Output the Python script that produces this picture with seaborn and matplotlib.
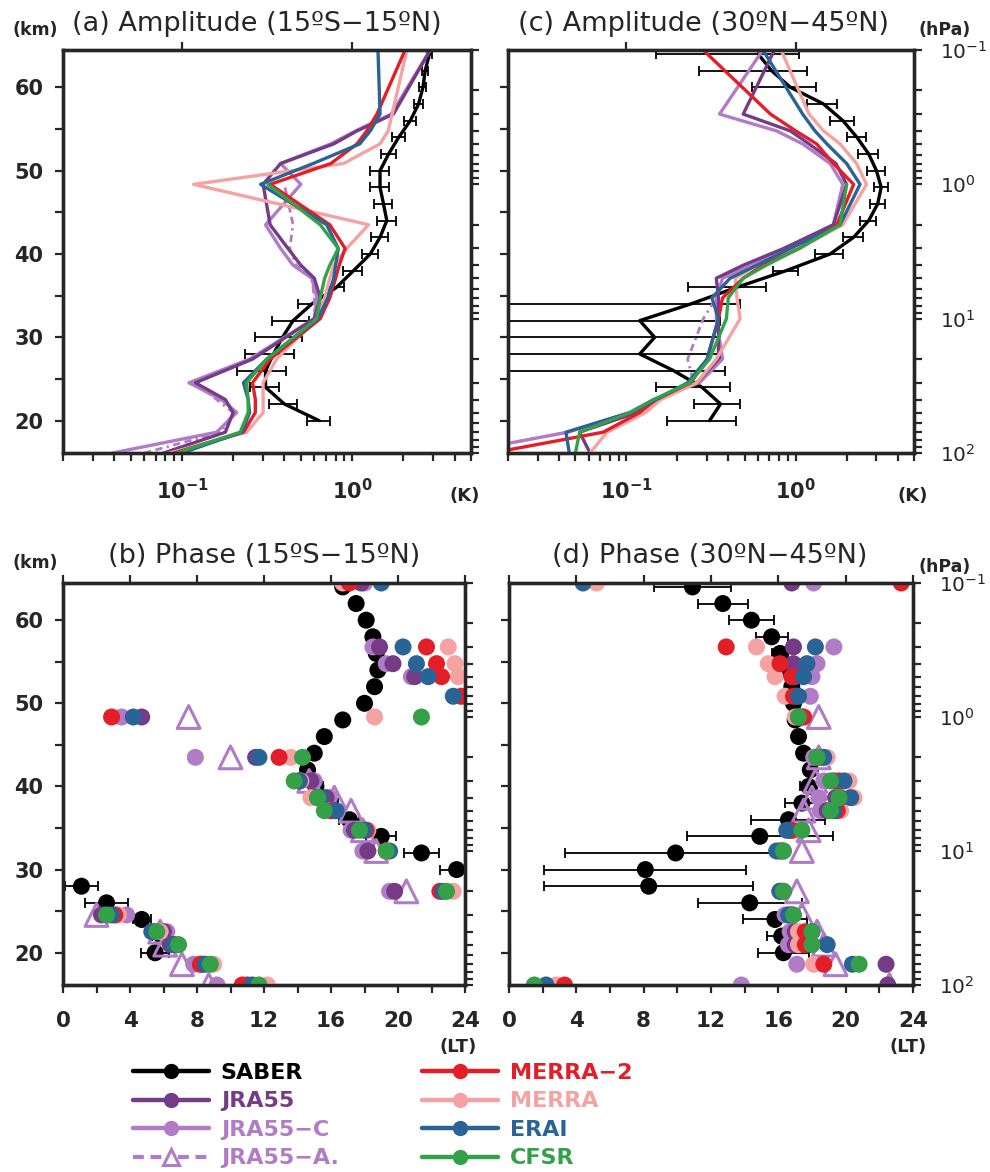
import numpy as np
import matplotlib
matplotlib.use("Agg")
import matplotlib.pyplot as plt
import seaborn as sns
from matplotlib.lines import Line2D
from matplotlib.ticker import MultipleLocator, NullFormatter

# ---------------------------------------------------------------- data
H_SCALE_KM = 7.0                      # log-pressure height z = H ln(1000/p)
P_LEVELS = [100, 70, 50, 40, 30, 20, 10, 7, 5, 4, 3, 2, 1, 0.7, 0.5, 0.4, 0.3, 0.1]   # hPa
P_LEVELS_1HPA = [100, 70, 50, 40, 30, 20, 10, 7, 5, 4, 3, 2, 1]                       # hPa
SABER_KM = [20, 22, 24, 26, 28, 30, 32, 34, 36, 38, 40, 42, 44, 46, 48, 50, 52, 54, 56, 58, 60, 62, 64]

NAN = np.nan

# (a) amplitude, 15S-15N (K)
EQ_AMP_SABER = [0.64, 0.40, 0.31, 0.31, 0.345, 0.39, 0.45, 0.58, 0.81, 1.02, 1.28, 1.46, 1.60, 1.53,
                1.46, 1.46, 1.64, 1.88, 2.20, 2.46, 2.61, 2.69, 2.85]
EQ_AMP_SABER_ERR = [0.10, 0.075, 0.06, 0.10, 0.11, 0.12, 0.11, 0.10, 0.09, 0.13, 0.14, 0.17, 0.20, 0.18,
                    0.18, 0.18, 0.16, 0.17, 0.17, 0.15, 0.12, 0.10, 0.10]
EQ_AMP_JRA55 = [0.078, 0.18, 0.20, 0.18, 0.12, 0.26, 0.60, 0.65, 0.60, 0.50, 0.42, 0.33, 0.30, 0.38, 0.78, 1.07, 1.75, 2.88]
EQ_AMP_JRA55C = [0.039, 0.16, 0.21, 0.17, 0.11, 0.25, 0.60, 0.62, 0.58, 0.45, 0.38, 0.31, 0.50, 0.38, 0.75, 1.05, 1.70, 2.88]
EQ_AMP_JRA55A = [0.06, 0.17, 0.20, 0.16, 0.12, 0.25, 0.60, 0.60, 0.58, 0.47, 0.43, 0.45, 0.40]
EQ_AMP_MERRA2 = [0.09, 0.23, 0.27, 0.27, 0.26, 0.33, 0.65, 0.74, 0.80, 0.84, 0.91, 0.74, 0.33, 0.75, 1.07, 1.22, 1.40, 2.05]
EQ_AMP_MERRA = [0.085, 0.24, 0.30, 0.30, 0.30, 0.36, 0.62, 0.69, 0.74, 0.78, 0.93, 1.25, 0.117, 0.89, 1.46, 1.63, 1.72, 2.10]
EQ_AMP_ERAI = [0.10, 0.225, 0.25, 0.245, 0.23, 0.315, 0.63, 0.72, 0.78, 0.80, 0.83, 0.71, 0.29, 0.59, 1.11, 1.28, 1.46, 1.42]
EQ_AMP_CFSR = [0.093, 0.22, 0.245, 0.245, 0.24, 0.315, 0.62, 0.65, 0.69, 0.74, 0.83, 0.65, 0.32]

# (c) amplitude, 30N-45N (K)
MID_AMP_SABER = [0.31, 0.36, 0.28, 0.19, 0.12, 0.147, 0.12, 0.24, 0.45, 0.88, 1.60, 2.20, 2.70, 3.05,
                 3.20, 3.00, 2.70, 2.30, 1.90, 1.46, 0.93, 0.72, 0.60]
MID_AMP_SABER_ERR = [0.135, 0.11, 0.13, 0.19, 0.237, 0.21, 0.237, 0.23, 0.22, 0.15, 0.30, 0.30, 0.30, 0.30,
                     0.30, 0.35, 0.35, 0.30, 0.30, 0.30, 0.38, 0.45, 0.45]
MID_AMP_JRA55 = [0.061, 0.053, 0.115, 0.15, 0.26, 0.35, 0.35, 0.35, 0.34, 0.49, 0.85, 1.67, 2.00, 1.73, 1.20, 0.93, 0.49, 0.75]
MID_AMP_JRA55C = [0.010, 0.045, 0.105, 0.145, 0.27, 0.37, 0.34, 0.34, 0.37, 0.54, 0.89, 1.67, 1.90, 1.60, 1.10, 0.77, 0.355, 0.64]
MID_AMP_JRA55A = [0.010, 0.045, 0.105, 0.145, 0.25, 0.23, 0.285, 0.34, 0.37, 0.54, 0.89, 1.67, 1.90]
MID_AMP_MERRA2 = [0.016, 0.073, 0.12, 0.15, 0.24, 0.30, 0.35, 0.37, 0.49, 0.64, 1.05, 1.75, 2.20, 1.67, 1.33, 1.00, 0.71, 0.284]
MID_AMP_MERRA = [0.061, 0.077, 0.13, 0.16, 0.26, 0.34, 0.47, 0.45, 0.44, 0.59, 1.05, 1.90, 2.62, 2.29, 1.83, 1.46, 1.20, 0.82]
MID_AMP_ERAI = [0.046, 0.044, 0.105, 0.15, 0.23, 0.30, 0.35, 0.32, 0.41, 0.59, 0.93, 1.83, 2.40, 2.00, 1.53, 1.30, 1.10, 0.64]
MID_AMP_CFSR = [0.050, 0.053, 0.105, 0.145, 0.237, 0.31, 0.39, 0.40, 0.49, 0.67, 1.05, 1.83, 2.00]

# (b) phase, 15S-15N (LT)
EQ_PH_SABER = [5.5, 5.9, 4.7, 2.6, 1.1, 23.5, 21.4, 19.0, 17.1, 15.9, 15.1, 14.6, 15.0, 15.6, 16.7, 18.0,
               18.6, 18.8, 18.7, 18.5, 18.1, 17.5, 16.7]
EQ_PH_SABER_ERR = [0.85, 0.6, 0.55, 1.3, 1.0, 1.0, 1.05, 0.9, 0.6, 0.5, 0.4, 0.35, 0.35, 0.3, 0.3, 0.3,
                   0.3, 0.3, 0.3, 0.3, 0.3, 0.3, 0.3]
EQ_PH_JRA55 = [11.0, 8.3, 6.4, 6.0, 2.3, 19.8, 18.2, 17.4, 16.2, 15.7, 14.8, 11.5, 4.7, NAN, 21.0, 19.7, 18.9, 17.8]
EQ_PH_JRA55C = [9.2, 7.8, 6.8, 6.2, 3.8, 19.5, 17.9, 17.2, 16.0, 15.9, 15.0, 7.9, 3.5, NAN, 20.8, 19.3, 18.5, 18.0]
EQ_PH_JRA55A = [8.7, 7.1, 6.1, 5.8, 2.0, 20.5, 18.7, 17.9, 17.2, 16.2, 14.7, 10.0, 7.5]
EQ_PH_MERRA2 = [10.7, 8.2, 6.6, 5.5, 3.1, 22.5, 19.3, 18.1, 16.0, 15.2, 14.1, 12.9, 2.9, 23.8, 22.6, 22.3, 21.7, 17.1]
EQ_PH_MERRA = [12.2, 9.0, 6.8, 5.8, 3.3, 23.3, 19.3, 18.2, 15.9, 14.8, 14.2, 13.6, 18.6, 23.7, 23.6, 23.4, 23.0, 16.7]
EQ_PH_ERAI = [11.3, 8.5, 6.6, 5.3, 2.9, 22.7, 19.5, 18.0, 16.3, 15.4, 14.1, 11.7, 4.2, 23.3, 21.8, 21.1, 20.3, 19.0]
EQ_PH_CFSR = [11.7, 8.8, 6.9, 5.6, 2.6, 22.9, 19.3, 17.7, 15.6, 15.2, 13.8, 14.3, 21.4]

# (d) phase, 30N-45N (LT)
MID_PH_SABER = [16.3, 16.2, 15.8, 14.3, 8.3, 8.1, 9.9, 14.9, 16.6, 17.4, 17.8, 17.9, 17.5, 17.2, 17.0, 16.9,
                16.8, 16.6, 16.1, 15.6, 14.4, 12.7, 10.9]
MID_PH_SABER_ERR = [1.5, 0.9, 1.9, 3.1, 6.2, 6.0, 6.6, 4.35, 2.2, 1.0, 0.5, 0.35, 0.3, 0.3, 0.3, 0.3,
                    0.3, 0.3, 0.5, 0.95, 1.35, 1.5, 2.3]
MID_PH_JRA55 = [22.5, 22.4, 17.0, 17.0, 16.7, 16.1, 16.2, 16.7, 18.9, 19.4, 19.3, 18.3, 17.4, 17.1, 17.0, 16.9, 16.9, 16.8]
MID_PH_JRA55C = [13.8, 17.1, 16.6, 16.7, 16.4, 16.1, 16.3, 16.7, 18.5, 18.4, 18.7, 18.1, 17.3, 17.9, 18.0, 18.3, 19.3, 18.1]
MID_PH_JRA55A = [22.6, 19.4, 18.7, 18.3, 17.4, 17.1, 17.4, 17.8, 17.5, 18.0, 18.2, 18.4, 18.4]
MID_PH_MERRA2 = [3.3, 18.7, 17.6, 17.6, 16.8, 16.3, 16.1, 16.8, 19.5, 19.7, 19.6, 18.5, 17.5, 16.9, 16.8, 16.1, 12.9, 23.3]
MID_PH_MERRA = [2.8, 18.1, 17.2, 17.2, 16.8, 16.2, 16.3, 17.0, 19.7, 20.5, 20.2, 18.9, 17.0, 16.4, 15.8, 15.4, 14.7, 5.2]
MID_PH_ERAI = [2.2, 20.4, 18.9, 18.0, 16.6, 16.1, 15.9, 16.5, 19.3, 20.3, 19.9, 18.7, 17.2, 17.2, 17.5, 17.7, 18.2, 4.4]
MID_PH_CFSR = [1.5, 20.8, 18.0, 18.0, 16.9, 16.3, 16.3, 17.4, 19.1, 19.6, 19.1, 18.3, 17.2]

NAMES = ["SABER", "JRA55", "JRA55-C", "JRA55-A.", "MERRA-2", "MERRA", "ERAI", "CFSR"]
LEGEND_LABELS = ["SABER", "JRA55", "JRA55−C", "JRA55−A.", "MERRA−2", "MERRA", "ERAI", "CFSR"]
COLORS = {"SABER": "#000000", "JRA55": "#763B86", "JRA55-C": "#B07CC6", "JRA55-A.": "#B07CC6",
          "MERRA-2": "#E41E26", "MERRA": "#F5A3A2", "ERAI": "#2A6496", "CFSR": "#34A048"}
DRAW_ORDER = ["JRA55-A.", "JRA55-C", "JRA55", "MERRA", "MERRA-2", "ERAI", "CFSR"]
A_DASH = (0, (2.6, 1.6, 2.6, 1.6, 0.8, 1.6))

TITLES = ["(a) Amplitude (15ºS−15ºN)", "(c) Amplitude (30ºN−45ºN)",
          "(b) Phase (15ºS−15ºN)", "(d) Phase (30ºN−45ºN)"]

# ---------------------------------------------------------------- helpers
def height_km(plev):
    return H_SCALE_KM * np.log(1000.0 / np.asarray(plev, dtype=float))

Z_BOT = float(height_km([100])[0])
Z_TOP = float(height_km([0.1])[0])

def series_levels(name):
    return P_LEVELS_1HPA if name in ("JRA55-A.", "CFSR") else P_LEVELS

sns.set_style("ticks")
plt.rcParams["font.family"] = ["DejaVu Sans"]
plt.rcParams["mathtext.default"] = "bf"

fig = plt.figure(figsize=(9.9, 11.72), dpi=100)
W, H = 990.0, 1172.0

def px_axes(l, t, r, b):
    return fig.add_axes([l / W, 1 - b / H, (r - l) / W, (b - t) / H])

ax_a = px_axes(63, 50, 471, 453)
ax_c = px_axes(508, 50, 914, 453)
ax_b = px_axes(63, 583, 465, 985)
ax_d = px_axes(509, 583, 913, 985)

TICK_KW = dict(which="both", direction="out", width=1.6, length=6)


def style_axes(ax, left_labels, right_labels, amp):
    ax.set_ylim(Z_BOT, Z_TOP)
    ax.yaxis.set_major_locator(MultipleLocator(10))
    ax.yaxis.set_minor_locator(MultipleLocator(5))
    ax.tick_params(**TICK_KW)
    ax.tick_params(axis="x", top=True, labeltop=False, labelsize=15)
    ax.tick_params(axis="y", left=True, right=False, labelleft=left_labels, pad=8, labelsize=15)
    if amp:
        ax.set_xscale("log")
        ax.set_xlim(0.02, 5.0)
        ax.xaxis.set_minor_formatter(NullFormatter())
        ax.tick_params(axis="x", pad=12)
    else:
        ax.set_xlim(0, 24)
        ax.xaxis.set_major_locator(MultipleLocator(4))
        ax.xaxis.set_minor_locator(MultipleLocator(2))
        ax.tick_params(axis="x", pad=13, labelsize=15.5)
    ax.set_xlabel("")
    ax.set_ylabel("")
    for lbl in ax.get_xticklabels() + ax.get_yticklabels():
        lbl.set_fontweight("bold")
    axr = ax.twinx()
    axr.set_yscale("log")
    axr.set_ylim(100, 0.1)
    axr.yaxis.set_minor_formatter(NullFormatter())
    axr.tick_params(**TICK_KW)
    axr.tick_params(axis="y", labelright=right_labels, pad=13, labelsize=14.5)
    for ax_ in (ax, axr):
        for sp in ax_.spines.values():
            sp.set_linewidth(2.4)
            sp.set_visible(True)
    return axr


def draw_amp(ax, saber, saber_err, data):
    ax.set_xscale("log")
    ax.errorbar(saber, SABER_KM, xerr=saber_err, fmt="none", ecolor="black",
                elinewidth=1.3, capsize=3.8, capthick=1.3, zorder=2)
    sns.lineplot(x=saber, y=SABER_KM, sort=False, estimator=None, color="black",
                 lw=2.4, ax=ax, zorder=3)
    for i, name in enumerate(DRAW_ORDER):
        z = height_km(series_levels(name))
        kw = dict(sort=False, estimator=None, color=COLORS[name], ax=ax, zorder=4 + i)
        if name == "JRA55-A.":
            sns.lineplot(x=data[name], y=z, lw=2.0, linestyle=A_DASH, **kw)
        else:
            sns.lineplot(x=data[name], y=z, lw=2.4, **kw)


def draw_phase(ax, saber, saber_err, data):
    ax.errorbar(saber, SABER_KM, xerr=saber_err, fmt="none", ecolor="black",
                elinewidth=1.3, capsize=3.8, capthick=1.3, zorder=2)
    sns.scatterplot(x=saber, y=SABER_KM, color="black", s=150, edgecolor="none",
                    linewidth=0, ax=ax, zorder=3)
    for i, name in enumerate(DRAW_ORDER):
        z = height_km(series_levels(name))
        c = COLORS[name]
        if name == "JRA55-A.":
            sns.scatterplot(x=data[name], y=z, marker="^", s=270, color=c, facecolor="none",
                            edgecolor=c, linewidth=2.2, ax=ax, zorder=4 + i)
        else:
            sns.scatterplot(x=data[name], y=z, s=150, color=c, edgecolor="none", linewidth=0,
                            ax=ax, zorder=4 + i)


EQ_AMP = {"JRA55": EQ_AMP_JRA55, "JRA55-C": EQ_AMP_JRA55C, "JRA55-A.": EQ_AMP_JRA55A,
          "MERRA-2": EQ_AMP_MERRA2, "MERRA": EQ_AMP_MERRA, "ERAI": EQ_AMP_ERAI, "CFSR": EQ_AMP_CFSR}
MID_AMP = {"JRA55": MID_AMP_JRA55, "JRA55-C": MID_AMP_JRA55C, "JRA55-A.": MID_AMP_JRA55A,
           "MERRA-2": MID_AMP_MERRA2, "MERRA": MID_AMP_MERRA, "ERAI": MID_AMP_ERAI, "CFSR": MID_AMP_CFSR}
EQ_PH = {"JRA55": EQ_PH_JRA55, "JRA55-C": EQ_PH_JRA55C, "JRA55-A.": EQ_PH_JRA55A,
         "MERRA-2": EQ_PH_MERRA2, "MERRA": EQ_PH_MERRA, "ERAI": EQ_PH_ERAI, "CFSR": EQ_PH_CFSR}
MID_PH = {"JRA55": MID_PH_JRA55, "JRA55-C": MID_PH_JRA55C, "JRA55-A.": MID_PH_JRA55A,
          "MERRA-2": MID_PH_MERRA2, "MERRA": MID_PH_MERRA, "ERAI": MID_PH_ERAI, "CFSR": MID_PH_CFSR}

draw_amp(ax_a, EQ_AMP_SABER, EQ_AMP_SABER_ERR, EQ_AMP)
draw_amp(ax_c, MID_AMP_SABER, MID_AMP_SABER_ERR, MID_AMP)
draw_phase(ax_b, EQ_PH_SABER, EQ_PH_SABER_ERR, EQ_PH)
draw_phase(ax_d, MID_PH_SABER, MID_PH_SABER_ERR, MID_PH)

style_axes(ax_a, True, False, True)
style_axes(ax_c, False, True, True)
style_axes(ax_b, True, False, False)
style_axes(ax_d, False, True, False)

# ---------------------------------------------------------------- texts
def ftext(x, y, s, size, **kw):
    fig.text(x / W, 1 - y / H, s, ha="center", va="center", fontsize=size, **kw)

ftext(257, 24, TITLES[0], 19.5)
ftext(704, 24, TITLES[1], 19.5)
ftext(264, 556, TITLES[2], 19.5)
ftext(710, 556, TITLES[3], 19.5)
for y in (30, 563):
    ftext(35, y, "(km)", 12.5, fontweight="bold")
for y in (30, 567):
    ftext(945, y, "(hPa)", 12.5, fontweight="bold")
ftext(465, 496, "(K)", 13, fontweight="bold")
ftext(913, 496, "(K)", 13, fontweight="bold")
ftext(458, 1047, "(LT)", 13, fontweight="bold")
ftext(908, 1047, "(LT)", 13, fontweight="bold")

# ---------------------------------------------------------------- legend
def legend_handle(name):
    c = COLORS[name]
    if name == "JRA55-A.":
        return Line2D([], [], color=c, lw=3, linestyle=A_DASH, marker="^", ms=12,
                      mfc="white", mec=c, mew=2.2)
    return Line2D([], [], color=c, lw=3.2, marker="o", ms=10, mec=c, mfc=c)

for idx, x0 in ((slice(0, 4), 133), (slice(4, 8), 422)):
    fig.legend(handles=[legend_handle(n) for n in NAMES[idx]], labels=LEGEND_LABELS[idx],
               loc="upper left", bbox_to_anchor=(x0 / W, 1 - 1063 / H),
               frameon=False, prop={"size": 16, "weight": "bold"},
               handlelength=3.4, handletextpad=0.55, labelspacing=0.38,
               borderpad=0, borderaxespad=0, labelcolor="linecolor")

fig.savefig("out.png", dpi=100)
